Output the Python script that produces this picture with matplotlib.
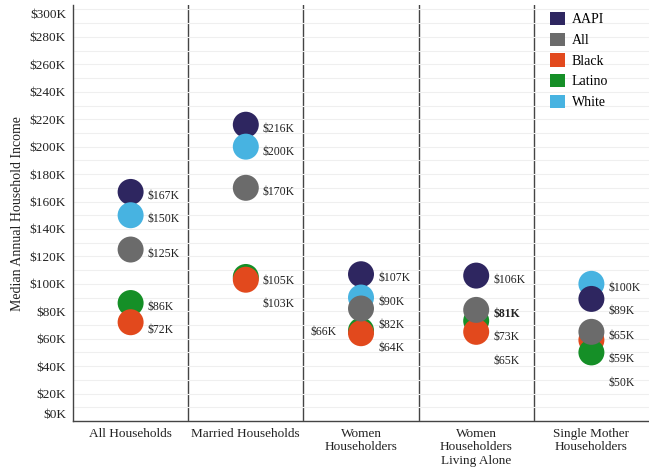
import numpy as np
import matplotlib
matplotlib.use('Agg')
import matplotlib.pyplot as plt
from matplotlib.patches import Patch

categories = ['All Households', 'Married Households', 'Women\nHouseholders',
              'Women\nHouseholders\nLiving Alone', 'Single Mother\nHouseholders']
groups = ['AAPI', 'All', 'Black', 'Latino', 'White']
# median income in $K, one list per group, in category order
aapi = [167, 216, 107, 106, 89]
all_hh = [125, 170, 82, 81, 65]
black = [72, 103, 64, 65, 59]
latino = [86, 105, 66, 73, 50]
white = [150, 200, 90, None, 100]
series = [aapi, all_hh, black, latino, white]

colors = {'AAPI': '#2e2660', 'All': '#6b6b6b', 'Black': '#e2491d',
          'Latino': '#158f27', 'White': '#47b3e1'}
left_labels = {(2, 'Latino')}
bold_labels = {(3, 'All')}

plt.rcParams['font.family'] = ['Liberation Serif', 'DejaVu Serif']
fig = plt.figure(figsize=(6.49, 4.67), dpi=100)
ax = fig.add_axes([0.1125, 0.0985, 0.8875, 0.89])

ax.set_xlim(-0.5, len(categories) - 0.5)
ax.set_ylim(0, 303)
yt = np.arange(0, 301, 20)
ax.set_yticks(yt)
ax.set_yticklabels(['$%dK' % v for v in yt])
ax.set_yticks(np.arange(0, 301, 10), minor=True)
ax.grid(axis='y', which='both', color='#efefef', lw=0.8, zorder=0)
ax.tick_params(axis='y', which='both', length=0, labelsize=9.5, colors='#222222', pad=5)
ax.tick_params(axis='x', length=0, labelsize=9.5, colors='#222222', pad=5)
# end labels kept inside the plot area
ax.get_yticklabels()[0].set_va('bottom')
ax.get_yticklabels()[-1].set_va('top')
ax.set_xticks(range(len(categories)))
ax.set_xticklabels(categories, linespacing=1.15)
for s in ['top', 'right']:
    ax.spines[s].set_visible(False)
for s in ['left', 'bottom']:
    ax.spines[s].set_color('#444444')
    ax.spines[s].set_linewidth(1)
for i in range(len(categories) - 1):
    ax.axvline(i + 0.5, color='#444444', lw=1, zorder=1)
ax.set_ylabel('Median Annual Household Income', fontsize=10, color='#222222', labelpad=4)

for i in range(len(categories)):
    pts = [(g, s[i]) for g, s in zip(groups, series) if s[i] is not None]
    pts.sort(key=lambda p: -p[1])
    # dots: higher values first, "All" on top
    for z, (g, v) in enumerate(pts):
        zo = 20 if g == 'All' else 3 + z
        ax.scatter(i, v, s=350, color=colors[g], edgecolors='none', zorder=zo)
    # value labels, pushed down so they do not overlap
    prev = None
    for g, v in pts:
        if (i, g) in left_labels:
            ax.annotate('$%dK' % v, (i, v - 1), xytext=(-24, 0), textcoords='offset pixels',
                        ha='right', va='center', fontsize=8.5, color='#222222')
            continue
        ly = v - 3 if prev is None else min(v - 3, prev - 17)
        prev = ly
        ax.annotate('$%dK' % v, (i, ly), xytext=(17, 0), textcoords='offset pixels',
                    ha='left', va='center', fontsize=8.5, color='#222222',
                    fontweight='bold' if (i, g) in bold_labels else 'normal')

handles = [Patch(facecolor=colors[g], edgecolor='none', label=g) for g in groups]
fig.legend(handles=handles, loc='upper left', bbox_to_anchor=(0.839, 0.986), frameon=False,
           fontsize=10, handlelength=1.1, handleheight=1.1, handletextpad=0.45,
           labelspacing=0.45, borderaxespad=0)

fig.savefig('out.png', dpi=100)
